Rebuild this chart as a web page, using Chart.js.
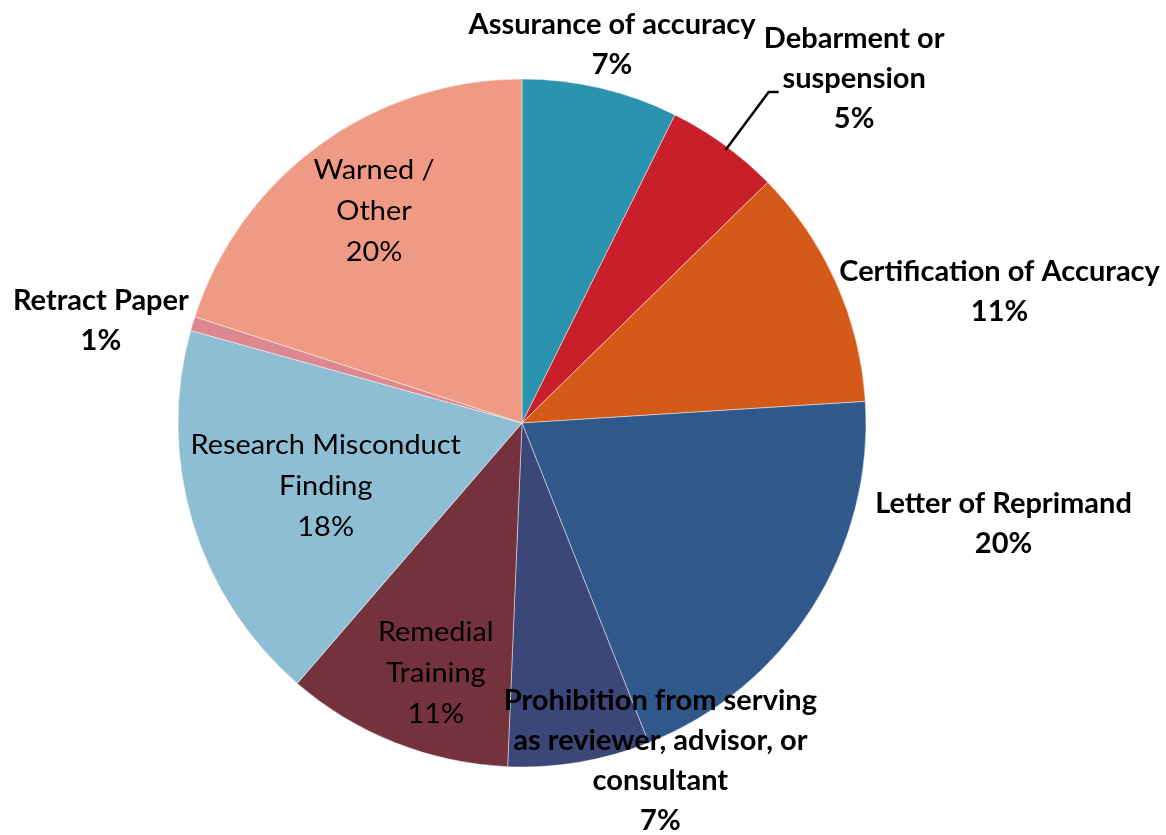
<!DOCTYPE html>
<html><head><meta charset="utf-8">
<script src="https://cdn.jsdelivr.net/npm/chart.js@4.4.1/dist/chart.umd.min.js"></script>
<style>html,body{margin:0;padding:0;background:#fff;}canvas{display:block}</style>
</head><body>
<canvas id="c" width="1166" height="835"></canvas>
<script>
// ---- data (slice sizes; labels show rounded shares) ----
const categories = ['Assurance of accuracy','Debarment or suspension','Certification of Accuracy','Letter of Reprimand','Prohibition from serving as reviewer, advisor, or consultant','Remedial Training','Research Misconduct Finding','Retract Paper','Warned / Other'];
const labelLines = [['Assurance of accuracy'],['Debarment or','suspension'],['Certification of Accuracy'],['Letter of Reprimand'],['Prohibition from serving','as reviewer, advisor, or','consultant'],['Remedial','Training'],['Research Misconduct','Finding'],['Retract Paper'],['Warned /','Other']];
const values = [11,8,17,30,10,16,27,1,30];
const colors = ['#2C93AE','#C91F2B','#D35A19','#30588B','#3B4679','#74323D','#8DBED3','#DD8790','#EE9A84'];

// ---- label placement (style): radial factor, angle shift (deg), inside flag ----
const placement = [
  {r:1.13, a:0.2, inside:false},
  {r:1.39, a:8.0, inside:false, leader:true},
  {r:1.44, a:8.6, inside:false},
  {r:1.43, a:-20.6, inside:false},
  {r:1.06, a:-12.7, inside:false},
  {r:0.77, a:-2.6, inside:true},
  {r:0.60, a:-1.2, inside:true},
  {r:1.26, a:-3.1, inside:false},
  {r:0.75, a:1, inside:true}
];

const total = values.reduce((s,v)=>s+v,0);

const labelPlugin = {
  id:'pieLabels',
  afterDraw(chart){
    const ctx = chart.ctx;
    const meta = chart.getDatasetMeta(0);
    meta.data.forEach((arc,i)=>{
      const p = arc.getProps(['x','y','startAngle','endAngle','outerRadius'],true);
      const pl = placement[i];
      const midBase = (p.startAngle+p.endAngle)/2;
      const mid = midBase + pl.a*Math.PI/180;
      const cx = p.x + Math.cos(mid)*p.outerRadius*pl.r;
      const cy = p.y + Math.sin(mid)*p.outerRadius*pl.r;
      const lines = labelLines[i].concat([Math.round(values[i]/total*100)+'%']);
      const lh = pl.inside ? 41 : 40;
      ctx.save();
      ctx.fillStyle = '#000';
      ctx.textAlign = 'center';
      ctx.textBaseline = 'middle';
      ctx.font = pl.inside ? '400 27px Lato' : '700 29px Lato';
      const sx = pl.inside ? 1.07 : 1.0;
      lines.forEach((t,k)=>{
        const y = cy + (k-(lines.length-1)/2)*lh;
        ctx.save();
        ctx.translate(cx,y);
        ctx.scale(sx,1);
        ctx.fillText(t,0,0);
        ctx.restore();
      });
      if (pl.leader){
        const la = midBase + 0.7*Math.PI/180;
        const x1 = p.x + Math.cos(la)*p.outerRadius*0.99, y1 = p.y + Math.sin(la)*p.outerRadius*0.99;
        const x2 = p.x + Math.cos(la)*p.outerRadius*1.2, y2 = p.y + Math.sin(la)*p.outerRadius*1.2;
        ctx.strokeStyle = '#000';
        ctx.lineWidth = 2.5;
        ctx.beginPath();
        ctx.moveTo(x1,y1); ctx.lineTo(x2,y2); ctx.lineTo(x2+10,y2);
        ctx.stroke();
      }
      ctx.restore();
    });
  }
};

new Chart(document.getElementById('c'),{
  type:'pie',
  data:{labels:categories, datasets:[{data:values, backgroundColor:colors, borderColor:'rgba(255,255,255,0.45)', borderWidth:1}]},
  options:{
    responsive:false, animation:false,
    radius:344,
    layout:{padding:{left:0,right:122,top:11,bottom:0}},
    plugins:{legend:{display:false}, tooltip:{enabled:false}}
  },
  plugins:[labelPlugin]
});
</script>
</body></html>
